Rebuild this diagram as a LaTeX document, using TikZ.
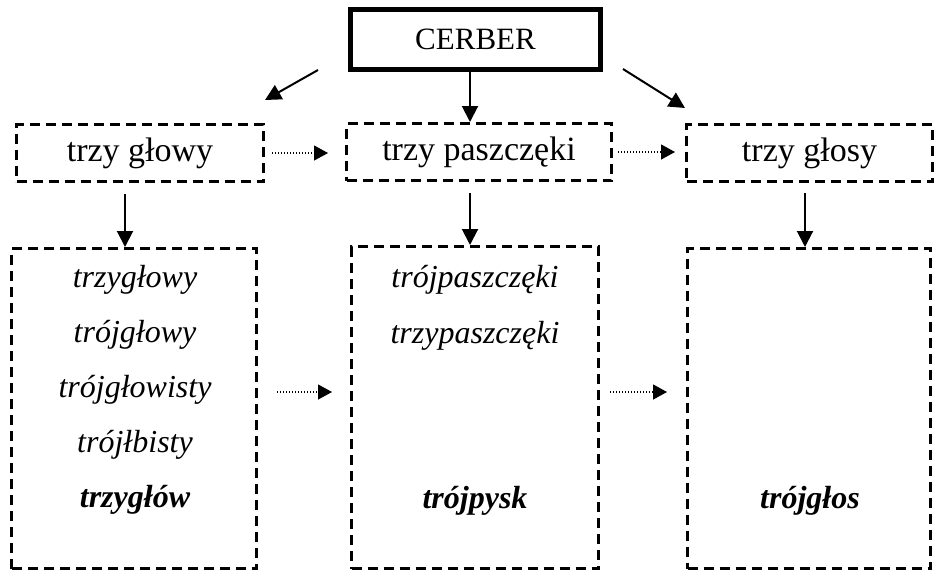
\documentclass[tikz,border=0pt]{standalone}
\usepackage{fontspec}
\setmainfont{Liberation Serif}
\usetikzlibrary{arrows.meta}

\begin{document}
\begin{tikzpicture}[x=0.5pt, y=-0.5pt,
    box/.style={draw, dash pattern=on 5pt off 3pt, line width=1.5pt, inner sep=0pt},
    head/.style={box, minimum height=28.5pt, font=\fontsize{17}{20}\selectfont},
    list/.style={box, minimum width=122.5pt, minimum height=160pt},
    word/.style={anchor=base, font=\fontsize{16}{19}\selectfont\itshape},
    bword/.style={word, font=\fontsize{16}{19}\selectfont\bfseries\itshape},
    arr/.style={-{Triangle[length=8pt,width=8pt]}, line width=1pt},
    dots/.style={-{Triangle[length=7pt,width=7.5pt]}, line width=0.6pt, dash pattern=on 0.6pt off 0.9pt}]
    \useasboundingbox (0,0) rectangle (936,574);

    % top
    \node[draw, line width=2.5pt, minimum width=125pt, minimum height=30pt,
        font=\fontsize{15.5}{18}\selectfont] (cerber) at (475.5,39.5) {CERBER};

    % second row
    \node[head, minimum width=123.5pt] (glowy) at (140,153) {trzy głowy};
    \node[head, minimum width=132.5pt] (paszczeki) at (479,152) {trzy paszczęki};
    \node[head, minimum width=123pt] (glosy) at (809.5,153) {trzy głosy};

    % lists
    \node[list] (lista) at (134,408.5) {};
    \node[list, minimum width=123.5pt, minimum height=161pt] (listb) at (475,407.5) {};
    \node[list, minimum width=121.5pt] (listc) at (809,408.5) {};

    \node[word] (w1) at (135,287) {trzygłowy};
    \node[word] (w2) at (135,342) {trójgłowy};
    \node[word] (w3) at (135,397) {trójgłowisty};
    \node[word] (w4) at (135,452) {trójłbisty};
    \node[bword] (w5) at (135,507) {trzygłów};

    \node[word] (w6) at (475,287) {trójpaszczęki};
    \node[word] (w7) at (475,343) {trzypaszczęki};
    \node[bword] (w8) at (475,508) {trójpysk};

    \node[bword] (w9) at (810,508) {trójgłos};

    % arrows from the top
    \coordinate (c1) at (318,70);
    \coordinate (c2) at (265,100);
    \coordinate (c3) at (623,69);
    \coordinate (c4) at (685,108);
    \draw[arr] (c1) -- (c2);
    \draw[arr] (c3) -- (c4);
    \draw[arr] ([xshift=-2.75pt]cerber.south) -- ([xshift=-2.75pt]cerber.south |- paszczeki.north);

    % arrows down
    \draw[arr] ([shift={(-7.5pt,-5.5pt)}]glowy.south) -- ([xshift=-7.5pt]glowy.south |- lista.north);
    \draw[arr] ([shift={(-4.5pt,-5.5pt)}]paszczeki.south) -- ([xshift=-4.5pt]paszczeki.south |- listb.north);
    \draw[arr] ([shift={(-2.25pt,-5pt)}]glosy.south) -- ([xshift=-2.25pt]glosy.south |- listc.north);

    % dotted arrows
    \draw[dots] ([xshift=3.5pt]glowy.east) -- ([xshift=-8.5pt]paszczeki.west |- glowy.east);
    \draw[dots] ([xshift=2.5pt]paszczeki.east) -- ([xshift=-5pt]glosy.west |- paszczeki.east);
    \draw[dots] ([shift={(9.5pt,8.25pt)}]lista.east) coordinate (d1) -- ([xshift=-9pt]listb.west |- d1);
    \draw[dots] ([shift={(5pt,7.75pt)}]listb.east) coordinate (d2) -- ([xshift=-9.5pt]listc.west |- d2);
\end{tikzpicture}
\end{document}
